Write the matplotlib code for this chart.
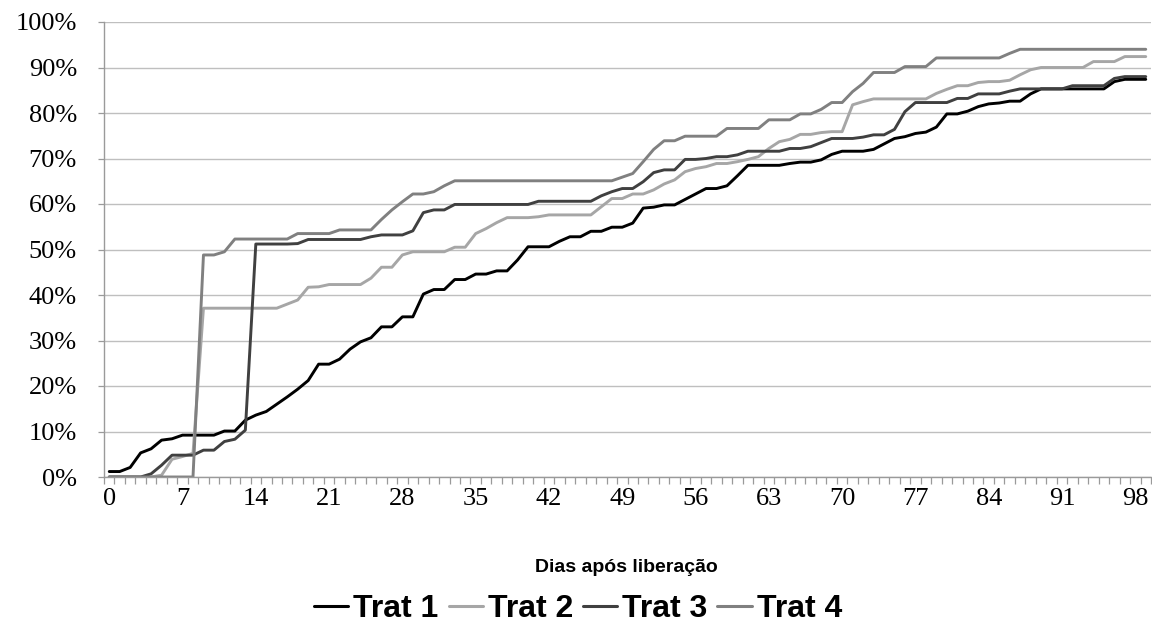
import matplotlib
matplotlib.use("Agg")
import matplotlib.pyplot as plt
from matplotlib.ticker import FixedLocator, FuncFormatter
import numpy as np

days = list(range(100))
tick_days = [0, 7, 14, 21, 28, 35, 42, 49, 56, 63, 70, 77, 84, 91, 98]
y_ticks = [0, 10, 20, 30, 40, 50, 60, 70, 80, 90, 100]
series_names = ["Trat 1", "Trat 2", "Trat 3", "Trat 4"]
series_colors = ["#000000", "#a6a6a6", "#404040", "#808080"]

trat1 = [1.2, 1.2, 2.1, 5.3, 6.2, 8.1, 8.4, 9.2, 9.2, 9.2,
         9.2, 10.1, 10.1, 12.5, 13.6, 14.4, 16.0, 17.6, 19.3, 21.2,
         24.8, 24.8, 25.9, 28.1, 29.7, 30.6, 33.0, 33.0, 35.2, 35.2,
         40.2, 41.2, 41.2, 43.4, 43.4, 44.6, 44.6, 45.3, 45.3, 47.7,
         50.6, 50.6, 50.6, 51.8, 52.8, 52.8, 54.0, 54.0, 54.9, 54.9,
         55.8, 59.1, 59.3, 59.8, 59.8, 61.0, 62.2, 63.4, 63.4, 64.0,
         66.2, 68.5, 68.5, 68.5, 68.5, 68.9, 69.2, 69.2, 69.7, 70.9,
         71.6, 71.6, 71.6, 72.0, 73.2, 74.4, 74.8, 75.5, 75.8, 76.9,
         79.8, 79.8, 80.4, 81.4, 82.0, 82.2, 82.6, 82.6, 84.2, 85.3,
         85.3, 85.3, 85.3, 85.3, 85.3, 85.3, 86.9, 87.4, 87.4, 87.4]

trat2 = [0.0, 0.0, 0.0, 0.0, 0.0, 0.4, 3.9, 4.5, 5.2, 37.1,
         37.1, 37.1, 37.1, 37.1, 37.1, 37.1, 37.1, 38.0, 38.9, 41.7,
         41.8, 42.3, 42.3, 42.3, 42.3, 43.7, 46.1, 46.1, 48.8, 49.5,
         49.5, 49.5, 49.5, 50.5, 50.5, 53.5, 54.6, 55.9, 57.0, 57.0,
         57.0, 57.2, 57.6, 57.6, 57.6, 57.6, 57.6, 59.4, 61.2, 61.2,
         62.2, 62.2, 63.1, 64.4, 65.3, 67.1, 67.8, 68.2, 68.9, 68.9,
         69.3, 69.8, 70.4, 72.2, 73.7, 74.2, 75.3, 75.3, 75.7, 75.9,
         75.9, 81.8, 82.5, 83.1, 83.1, 83.1, 83.1, 83.1, 83.1, 84.3,
         85.2, 86.0, 86.0, 86.7, 86.9, 86.9, 87.2, 88.4, 89.5, 90.0,
         90.0, 90.0, 90.0, 90.0, 91.3, 91.3, 91.3, 92.4, 92.4, 92.4]

trat3 = [0.0, 0.0, 0.0, 0.0, 0.7, 2.6, 4.8, 4.8, 4.8, 5.9,
         5.9, 7.8, 8.3, 10.3, 51.2, 51.2, 51.2, 51.2, 51.3, 52.2,
         52.2, 52.2, 52.2, 52.2, 52.2, 52.8, 53.2, 53.2, 53.2, 54.1,
         58.1, 58.7, 58.7, 59.9, 59.9, 59.9, 59.9, 59.9, 59.9, 59.9,
         59.9, 60.6, 60.6, 60.6, 60.6, 60.6, 60.6, 61.8, 62.7, 63.4,
         63.4, 64.9, 66.9, 67.5, 67.5, 69.8, 69.8, 70.0, 70.4, 70.4,
         70.8, 71.6, 71.6, 71.6, 71.6, 72.2, 72.2, 72.6, 73.5, 74.4,
         74.4, 74.4, 74.7, 75.2, 75.2, 76.4, 80.3, 82.3, 82.3, 82.3,
         82.3, 83.2, 83.2, 84.2, 84.2, 84.2, 84.8, 85.3, 85.3, 85.3,
         85.3, 85.3, 86.0, 86.0, 86.0, 86.0, 87.6, 88.0, 88.0, 88.0]

trat4 = [0.0, 0.0, 0.0, 0.0, 0.0, 0.0, 0.0, 0.0, 0.0, 48.8,
         48.8, 49.5, 52.3, 52.3, 52.3, 52.3, 52.3, 52.3, 53.5, 53.5,
         53.5, 53.5, 54.3, 54.3, 54.3, 54.3, 56.6, 58.7, 60.5, 62.2,
         62.2, 62.7, 64.0, 65.1, 65.1, 65.1, 65.1, 65.1, 65.1, 65.1,
         65.1, 65.1, 65.1, 65.1, 65.1, 65.1, 65.1, 65.1, 65.1, 65.9,
         66.7, 69.3, 72.0, 73.9, 73.9, 74.9, 74.9, 74.9, 74.9, 76.6,
         76.6, 76.6, 76.6, 78.5, 78.5, 78.5, 79.8, 79.8, 80.8, 82.3,
         82.3, 84.7, 86.5, 88.9, 88.9, 88.9, 90.2, 90.2, 90.2, 92.1,
         92.1, 92.1, 92.1, 92.1, 92.1, 92.1, 93.1, 94.0, 94.0, 94.0,
         94.0, 94.0, 94.0, 94.0, 94.0, 94.0, 94.0, 94.0, 94.0, 94.0]

all_series = [trat1, trat2, trat3, trat4]

serif = ["Liberation Serif", "DejaVu Serif"]
sans = ["Liberation Sans", "DejaVu Sans"]

fig = plt.figure(figsize=(11.52, 6.32), dpi=100)
ax = fig.add_axes([104 / 1152, 1 - 477 / 632, 1 - 104 / 1152 - 1 / 1152, (477 - 22) / 632])

for vals, name, col in zip(all_series, series_names, series_colors):
    ax.plot(days, vals, color=col, lw=2.1, label=name,
            solid_joinstyle="round", solid_capstyle="round")

ax.set_xlim(-0.5, 99.5)
ax.set_ylim(0, 100)

ax.set_yticks(y_ticks)
ax.yaxis.set_major_formatter(FuncFormatter(lambda v, p: f"{int(v)}%"))
ax.grid(axis="y", color="#bfbfbf", lw=1.0)
ax.set_axisbelow(True)

ax.xaxis.set_major_locator(FixedLocator(tick_days))
ax.xaxis.set_minor_locator(FixedLocator(np.arange(-0.5, 100, 1.0)))
ax.tick_params(axis="x", which="major", length=0, pad=8, labelsize=19)
ax.tick_params(axis="x", which="minor", length=5, width=0.9, color="#9a9a9a", direction="out")
ax.tick_params(axis="y", which="major", length=4.5, width=0.9, color="#9a9a9a", pad=15, labelsize=19)
for lab in ax.get_xticklabels() + ax.get_yticklabels():
    lab.set_fontfamily(serif)

for s in ["top", "right"]:
    ax.spines[s].set_visible(False)
for s in ["left", "bottom"]:
    ax.spines[s].set_color("#9a9a9a")
    ax.spines[s].set_linewidth(1.0)

fig.text(626 / 1152, 1 - 567 / 632, "Dias após liberação", ha="center", va="center",
         fontsize=14, fontweight="bold", family=sans)

leg = fig.legend(loc="center", bbox_to_anchor=(578 / 1152, 1 - 609 / 632), ncol=4,
                 frameon=False, handlelength=1.07, handletextpad=0.16, columnspacing=0.31,
                 prop={"family": sans, "weight": "bold", "size": 23})
for line in leg.get_lines():
    line.set_linewidth(2.2)

fig.savefig("out.png", dpi=100)
